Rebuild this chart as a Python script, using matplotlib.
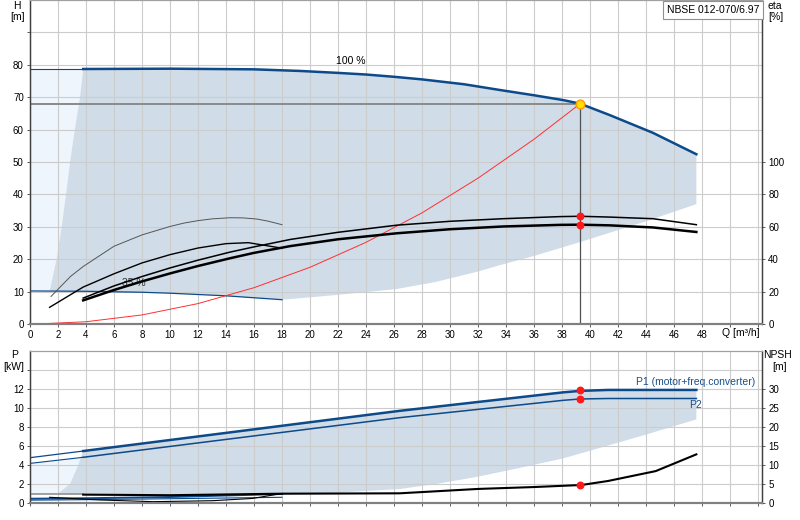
import matplotlib
matplotlib.use('Agg')
import matplotlib.pyplot as plt
import numpy as np

plt.rcParams['font.family'] = ['Liberation Sans', 'DejaVu Sans']
plt.rcParams['font.size'] = 7

# ---- data ----
# head curve at 100 % speed
q_100 = [3.8, 10, 16, 19.3, 22, 24, 26, 28, 31, 33.6, 36, 38.1, 39.3, 41.4, 44.5, 47.6]
h_100 = [78.7, 78.8, 78.6, 78.1, 77.5, 77.0, 76.3, 75.5, 74.0, 72.2, 70.6, 69.1, 68.0, 64.5, 59.0, 52.4]
q_100_ext = [0, 3.8]
h_100_ext = [78.7, 78.7]

# head curve at 35 % speed
q_35 = [0, 4, 8, 10, 14, 18]
h_35 = [10.2, 10.1, 9.8, 9.5, 8.7, 7.5]

# system curve
q_sys = [0.5, 4, 8, 12, 16, 20, 24, 28, 32, 36, 39.3]
h_sys = [0, 0.7, 2.8, 6.3, 11.2, 17.5, 25.2, 34.3, 45.0, 57.0, 68.0]

# operating range boundaries
q_lo = [47.6, 44, 39.3, 36, 33.6, 32, 29, 26.2, 22, 18.6, 18]
h_lo = [37, 31.7, 25.3, 21, 18.2, 16.2, 13, 10.8, 9, 7.7, 7.5]
q_left = [1.4, 1.9, 2.26, 2.57, 2.86, 3.2, 3.57, 3.8]
h_left = [10.1, 20, 30, 40, 50, 60, 70, 78.7]

# efficiency curves [%]
q_eta = [3.8, 6, 8, 10, 12, 14.3, 16, 18.6, 22, 26.2, 30, 33.8, 37.9, 39.3, 41.4, 44.5, 47.6]
eta_pump = [16, 23.5, 29.3, 34.6, 39.4, 44.4, 47.6, 52.2, 56.6, 61.0, 63.4, 65, 66.3, 66.5, 66, 65, 61.3]
eta_total = [14.6, 21, 26.3, 31.2, 35.8, 40.6, 43.9, 48.1, 52.3, 56.0, 58.5, 60.2, 61.2, 61.3, 60.9, 59.6, 56.8]
q_eta_a = [1.5, 2.9, 3.8, 6, 8, 10, 11, 12, 13, 14.3, 15.2, 16.2, 17, 18]
eta_a = [17, 29.4, 35.5, 48, 55, 60.2, 62.3, 63.8, 64.9, 65.6, 65.5, 64.8, 63.5, 61.3]
q_eta_b = [1.4, 3.8, 6, 8, 10, 12, 14, 15.6, 18]
eta_b = [10.3, 22.8, 31, 37.7, 42.8, 46.9, 49.6, 50.2, 46.8]

# duty point
duty_q = 39.3
duty_h = 68.0
duty_eta = [66.5, 61.3]
duty_p = [11.86, 10.98]
duty_npsh = 4.74

# power curves [kW]
q_p = [3.8, 26.4, 38.1, 39.3, 41.3, 47.6]
p1 = [5.47, 9.7, 11.65, 11.8, 11.9, 11.9]
p2 = [4.81, 8.98, 10.81, 10.95, 11.0, 11.0]
q_p_ext = [0, 3.8]
p1_ext = [4.77, 5.47]
p2_ext = [4.17, 4.81]

# NPSH [m]
q_npsh = [3.8, 10, 18, 26.4, 32, 36, 39.4, 41.3, 44.7, 47.6]
npsh = [2.2, 2.05, 2.45, 2.55, 3.7, 4.2, 4.74, 5.8, 8.4, 12.8]
q_npsh_ext = [0, 3.8]
npsh_ext = [2.25, 2.25]

# low speed power / npsh curves
q_low = [0, 4, 10, 18]
p1_low = [0.45, 0.5, 0.63, 0.95]
p2_low = [0.3, 0.35, 0.45, 0.6]
q_npsh_low = [1.4, 5, 8.8, 13, 15.9, 18]
npsh_low = [1.5, 0.8, 0.35, 0.6, 1.2, 2.5]

# power range boundaries
q_plo = [47.6, 44, 40, 38.1, 35, 32, 29, 26.4, 22, 18, 10, 3.8, 2.0]
p_plo = [8.8, 7.2, 5.5, 4.7, 3.7, 2.77, 2.0, 1.47, 1.1, 0.9, 0.9, 0.9, 1.0]
q_pleft = [2.0, 2.86, 3.45, 3.8]
p_pleft = [1.0, 2.0, 4.0, 5.47]

BLUE = '#0d4a8a'
SHADE = '#d0dce8'
LIGHT = '#eef5fd'
GRID = '#cccccc'
SPINE = '#404040'

fig = plt.figure(figsize=(8, 5.2), dpi=100)
ax = fig.add_axes([30/800, 1 - 324/520, 732/800, 324/520])
axb = fig.add_axes([30/800, 1 - 503/520, 732/800, 152/520])

# ---- top chart: head ----
light_q = [q_35[0]] + q_left + [q_100_ext[0]]
light_h = [h_35[0]] + h_left + [h_100_ext[0]]
ax.fill(light_q, light_h, color=LIGHT, lw=0, zorder=0.1)

mid_35 = [(q, h) for q, h in zip(q_35, h_35) if q_left[0] < q < q_lo[-1]][::-1]
poly_q = q_100 + q_lo + [p[0] for p in mid_35] + q_left
poly_h = h_100 + h_lo + [p[1] for p in mid_35] + h_left
ax.fill(poly_q, poly_h, color=SHADE, lw=0, zorder=0.2)

ax.plot(q_100_ext, h_100_ext, color=BLUE, lw=0.8, zorder=3)
ax.plot(q_100, h_100, color=BLUE, lw=1.8, zorder=3)
ax.plot(q_35, h_35, color=BLUE, lw=0.9, zorder=3)
ax.plot(q_sys, h_sys, color='#ff3030', lw=0.7, zorder=3)
ax.plot([0, duty_q], [duty_h, duty_h], color='#8a8a8a', lw=1.4, zorder=2)
ax.plot([duty_q, duty_q], [0, duty_h], color='#505050', lw=0.9, zorder=2)
ax.scatter([duty_q], [duty_h], s=40, facecolor='#ffe000', edgecolor='#ff9900', lw=1, zorder=6)

ax.text(22.9, 81.3, '100 %', ha='center', va='center', fontsize=7.5)
ax.text(7.4, 12.7, '35 %', ha='center', va='center', fontsize=7.5, color='#333333', zorder=2.5)

ax.set_xlim(0, 52.29)
ax.set_ylim(0, 100)
ax.set_xticks(np.arange(0, 53, 2))
ax.set_xticklabels([str(v) if v <= 48 else '' for v in range(0, 53, 2)])
ax.set_yticks(np.arange(0, 100, 10))
ax.set_yticklabels([str(v) if v <= 80 else '' for v in range(0, 100, 10)])
ax.set_axisbelow(True)
ax.grid(True, color=GRID, lw=0.8)

eta_ax = ax.twinx()
eta_ax.plot(q_eta_a, eta_a, color='#555555', lw=0.7)
eta_ax.plot(q_eta_b, eta_b, color='black', lw=1.0)
eta_ax.plot(q_eta, eta_pump, color='black', lw=1.1)
eta_ax.plot(q_eta, eta_total, color='black', lw=1.8)
eta_ax.scatter([duty_q] * 2, duty_eta, s=22, color='#ff1a1a', zorder=6)
eta_ax.set_ylim(0, 200)
eta_ax.set_yticks(np.arange(0, 101, 20))

# ---- bottom chart: power and NPSH ----
lightb_q = [q_p_ext[0]] + q_pleft[:-1] + [q_p_ext[1], q_p_ext[0]]
lightb_p = [p_plo[-2]] + p_pleft[:-1] + [p2_ext[1], p2_ext[0]]
axb.fill(lightb_q, lightb_p, color=LIGHT, lw=0, zorder=0.1)
axb.fill(q_p + q_plo + q_pleft, p1 + p_plo + p_pleft, color=SHADE, lw=0, zorder=0.2)

axb.plot(q_p_ext, p1_ext, color=BLUE, lw=0.9, zorder=3)
axb.plot(q_p_ext, p2_ext, color=BLUE, lw=0.8, zorder=3)
axb.plot(q_p, p1, color=BLUE, lw=1.8, zorder=3)
axb.plot(q_p, p2, color=BLUE, lw=1.1, zorder=3)
axb.plot(q_low, p1_low, color=BLUE, lw=1.4, zorder=3)
axb.plot(q_low, p2_low, color=BLUE, lw=0.8, zorder=3)
axb.scatter([duty_q] * 2, duty_p, s=22, color='#ff1a1a', zorder=6)

axb.text(43.3, 12.7, 'P1 (motor+freq.converter)', color='#1a4f8a', ha='left', va='center', fontsize=7.5)
axb.text(47.1, 10.3, 'P2', color='#1a4f8a', ha='left', va='center', fontsize=7.5)

axb.set_xlim(0, 52.29)
axb.set_ylim(0, 16)
axb.set_xticks(np.arange(0, 53, 2))
axb.set_xticklabels([])
axb.set_yticks(np.arange(0, 16, 2))
axb.set_yticklabels([str(v) if v <= 12 else '' for v in range(0, 16, 2)])
axb.set_axisbelow(True)
axb.grid(True, color=GRID, lw=0.8)

npsh_ax = axb.twinx()
npsh_ax.plot(q_npsh_ext, npsh_ext, color='#909090', lw=1.2)
npsh_ax.plot(q_npsh_low, npsh_low, color='black', lw=0.8)
npsh_ax.plot(q_npsh, npsh, color='black', lw=1.5)
npsh_ax.scatter([duty_q], [duty_npsh], s=22, color='#ff1a1a', zorder=6)
npsh_ax.set_ylim(0, 40)
npsh_ax.set_yticks(np.arange(0, 31, 5))

for a in (ax, axb, eta_ax, npsh_ax):
    a.tick_params(length=2.5, width=0.6, color=SPINE, pad=2, labelsize=7)
    for side in ('left', 'right'):
        a.spines[side].set_color(SPINE)
        a.spines[side].set_linewidth(0.9)
    a.spines['top'].set_color('#a0a0a0')
    a.spines['bottom'].set_color('#808080')
    a.spines['bottom'].set_linewidth(1.5)

# axis titles
fig.text(16.5/800, 1 - 6/520, 'H', ha='center', va='center', fontsize=7.5)
fig.text(17.5/800, 1 - 17.5/520, '[m]', ha='center', va='center', fontsize=7.5)
fig.text(768/800, 1 - 6/520, 'eta', ha='left', va='center', fontsize=7.5)
fig.text(768/800, 1 - 17.5/520, '[%]', ha='left', va='center', fontsize=7.5)
fig.text(722/800, 1 - 333/520, 'Q [m³/h]', ha='left', va='center', fontsize=7.5)
fig.text(14.5/800, 1 - 355.5/520, 'P', ha='center', va='center', fontsize=7.5)
fig.text(14/800, 1 - 367.5/520, '[kW]', ha='center', va='center', fontsize=7.5)
fig.text(778/800, 1 - 355.5/520, 'NPSH', ha='center', va='center', fontsize=7.5)
fig.text(780/800, 1 - 367.5/520, '[m]', ha='center', va='center', fontsize=7.5)

fig.text(759/800, 1 - 10/520, 'NBSE 012-070/6.97', ha='right', va='center', fontsize=7.5,
         bbox=dict(boxstyle='square,pad=0.35', fc='white', ec='#909090', lw=0.8))

fig.savefig('out.png', dpi=100)
